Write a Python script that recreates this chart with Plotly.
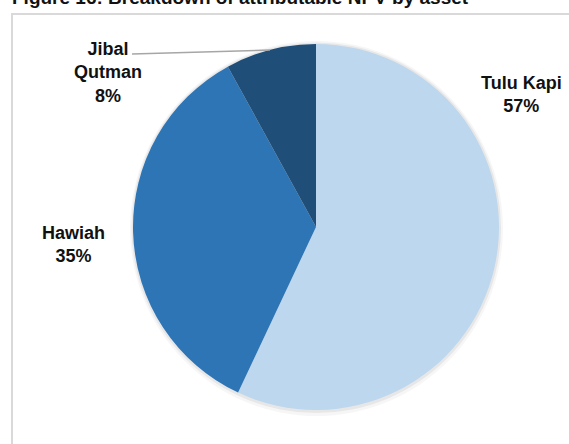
import plotly.graph_objects as go

W, H = 569, 444

assets = ["Tulu Kapi", "Hawiah", "Jibal Qutman"]
shares = [57, 35, 8]
label_lines = ["Tulu Kapi", "Hawiah", "Jibal<br>Qutman"]
colors = ["#BDD7EE", "#2E75B6", "#1F4E79"]
title_text = "Figure 16: Breakdown of attributable NPV by asset"

# pie geometry in pixels
cx, cy, r = 316, 227, 183

def px(x):
    return x / W

def py(y):
    return 1 - y / H

fig = go.Figure()
fig.add_trace(go.Pie(
    labels=assets,
    values=shares,
    sort=False,
    direction="clockwise",
    rotation=0,
    marker=dict(colors=colors, line=dict(width=0)),
    textinfo="none",
    hoverinfo="label+percent",
    showlegend=False,
    domain=dict(x=[px(cx - r), px(cx + r)], y=[py(cy + r), py(cy - r)]),
))

label_pos = [(521, 94), (73, 244), (108, 72)]
lab_font = dict(family="Liberation Sans Narrow, Arial Narrow, Liberation Sans, Arial", size=18, color="#111111")
annotations = []
for lines, v, (x, y) in zip(label_lines, shares, label_pos):
    annotations.append(dict(
        x=px(x), y=py(y), xref="paper", yref="paper",
        text="<b>%s<br>%d%%</b>" % (lines, v),
        showarrow=False, xanchor="center", yanchor="middle",
        font=lab_font, align="center",
    ))

annotations.append(dict(
    x=px(10), y=py(10), xref="paper", yref="paper",
    text="<b>%s</b>" % title_text, showarrow=False,
    xanchor="left", yanchor="bottom",
    font=dict(family="Liberation Sans, Arial", size=19, color="#111111"),
))

shapes = [
    # frame
    dict(type="rect", xref="paper", yref="paper",
         x0=px(12), x1=px(W + 20), y0=py(H + 20), y1=py(14),
         line=dict(color="#D9D9D9", width=2), fillcolor="rgba(0,0,0,0)", layer="below"),
    # soft shadow behind pie
    dict(type="circle", xref="paper", yref="paper",
         x0=px(cx - r - 3), x1=px(cx + r + 4), y0=py(cy + r + 6), y1=py(cy - r - 3),
         line=dict(width=0), fillcolor="rgba(0,0,0,0.035)", layer="below"),
    dict(type="circle", xref="paper", yref="paper",
         x0=px(cx - r - 1.5), x1=px(cx + r + 2), y0=py(cy + r + 3), y1=py(cy - r - 1.5),
         line=dict(width=0), fillcolor="rgba(0,0,0,0.06)", layer="below"),
    # leader line for Jibal Qutman
    dict(type="line", xref="paper", yref="paper",
         x0=px(132), y0=py(54), x1=px(270), y1=py(50),
         line=dict(color="#A6A6A6", width=1.5)),
]

fig.update_layout(
    width=W, height=H,
    margin=dict(l=0, r=0, t=0, b=0),
    paper_bgcolor="white", plot_bgcolor="white",
    annotations=annotations, shapes=shapes,
)

fig.write_html(
    "out.html",
    config=dict(displayModeBar=False),
    post_script="document.body.style.margin='0';document.body.style.overflow='hidden';",
)
